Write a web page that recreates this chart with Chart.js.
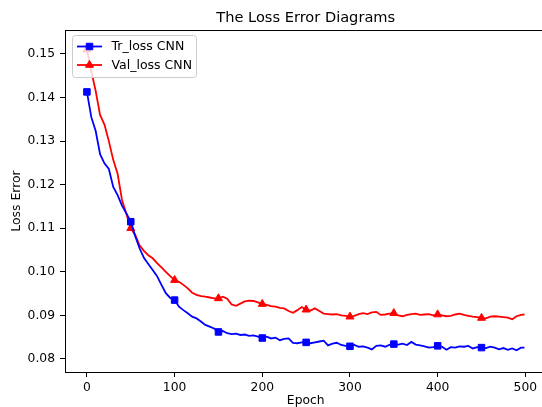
<!DOCTYPE html>
<html>
<head>
<meta charset="utf-8">
<script src="https://cdn.jsdelivr.net/npm/chart.js@4.4.0/dist/chart.umd.min.js"></script>
<style>
  html, body { margin: 0; padding: 0; background: #fff; overflow: hidden; }
  #lossChart { display: block; }
</style>
</head>
<body>
<canvas id="lossChart" width="552" height="415"></canvas>
<script>
// epochs sampled every 5 (plus the last one)
var epochs = [0, 5, 10, 15, 20, 25, 30, 35, 40, 45, 50, 55, 60, 65, 70, 75, 80, 85, 90, 95,
  100, 105, 110, 115, 120, 125, 130, 135, 140, 145, 150, 155, 160, 165, 170, 175, 180, 185, 190, 195,
  200, 205, 210, 215, 220, 225, 230, 235, 240, 245, 250, 255, 260, 265, 270, 275, 280, 285, 290, 295,
  300, 305, 310, 315, 320, 325, 330, 335, 340, 345, 350, 355, 360, 365, 370, 375, 380, 385, 390, 395,
  400, 405, 410, 415, 420, 425, 430, 435, 440, 445, 450, 455, 460, 465, 470, 475, 480, 485, 490, 495, 499];

var trLoss = [0.1413, 0.1355, 0.1323, 0.1270, 0.1249, 0.1236, 0.1195, 0.1176, 0.1152, 0.1134,
  0.1115, 0.1082, 0.1054, 0.1032, 0.1018, 0.1004, 0.0990, 0.0970, 0.0951, 0.0940,
  0.0935, 0.0920, 0.0912, 0.0905, 0.0897, 0.0893, 0.0886, 0.0878, 0.0874, 0.0870,
  0.0862, 0.0864, 0.0859, 0.0857, 0.0858, 0.0855, 0.0856, 0.0853, 0.0854, 0.0851,
  0.0848, 0.0851, 0.0847, 0.0849, 0.0843, 0.0846, 0.0847, 0.0837, 0.0836, 0.0838,
  0.0838, 0.0836, 0.0838, 0.0840, 0.0842, 0.0831, 0.0835, 0.0837, 0.0832, 0.0830,
  0.0829, 0.0832, 0.0828, 0.0829, 0.0826, 0.0822, 0.0830, 0.0831, 0.0828, 0.0832,
  0.0834, 0.0833, 0.0835, 0.0832, 0.0839, 0.0833, 0.0831, 0.0829, 0.0826, 0.0827,
  0.0830, 0.0828, 0.0821, 0.0827, 0.0826, 0.0829, 0.0828, 0.0830, 0.0824, 0.0827,
  0.0826, 0.0825, 0.0828, 0.0826, 0.0822, 0.0825, 0.0821, 0.0824, 0.0820, 0.0826, 0.0826];

var valLoss = [0.1510, 0.1460, 0.1415, 0.1360, 0.1338, 0.1300, 0.1257, 0.1225, 0.1165, 0.1133,
  0.1100, 0.1085, 0.1061, 0.1048, 0.1038, 0.1031, 0.1020, 0.1010, 0.1000, 0.0990,
  0.0981, 0.0977, 0.0970, 0.0962, 0.0952, 0.0947, 0.0944, 0.0943, 0.0941, 0.0939,
  0.0939, 0.0943, 0.0938, 0.0925, 0.0922, 0.0927, 0.0932, 0.0934, 0.0933, 0.0930,
  0.0926, 0.0924, 0.0921, 0.0920, 0.0917, 0.0916, 0.0910, 0.0906, 0.0912, 0.0919,
  0.0913, 0.0911, 0.0916, 0.0910, 0.0904, 0.0903, 0.0902, 0.0903, 0.0900, 0.0899,
  0.0897, 0.0899, 0.0903, 0.0905, 0.0903, 0.0907, 0.0908, 0.0901, 0.0902, 0.0904,
  0.0905, 0.0900, 0.0898, 0.0901, 0.0903, 0.0904, 0.0901, 0.0902, 0.0903, 0.0900,
  0.0902, 0.0900, 0.0898, 0.0899, 0.0902, 0.0904, 0.0901, 0.0899, 0.0897, 0.0896,
  0.0894, 0.0893, 0.0897, 0.0898, 0.0897, 0.0896, 0.0895, 0.0891, 0.0898, 0.0901, 0.0902];

var xTicks = [0, 100, 200, 300, 400, 500];
var yTicks = [0.08, 0.09, 0.10, 0.11, 0.12, 0.13, 0.14, 0.15];
var seriesNames = ["Tr_loss CNN", "Val_loss CNN"];
var markEvery = 50;

var FONT = "'DejaVu Sans', sans-serif";

function toPoints(values) {
  return epochs.map(function (e, i) { return { x: e, y: values[i] }; });
}
function markerRadius() {
  return epochs.map(function (e) { return e % markEvery === 0 ? 4.6 : 0; });
}

// top border of the axes box (right one is out of view)
var frameBox = {
  id: "frameBox",
  afterDraw: function (chart) {
    var a = chart.chartArea, ctx = chart.ctx;
    ctx.save();
    ctx.strokeStyle = "#000";
    ctx.lineWidth = 1;
    ctx.beginPath();
    ctx.moveTo(a.left, a.top + 0.5);
    ctx.lineTo(a.right, a.top + 0.5);
    ctx.lineTo(a.right, a.bottom);
    ctx.stroke();
    ctx.restore();
  }
};

// matplotlib-like legend in the upper left of the axes
var innerLegend = {
  id: "innerLegend",
  afterDatasetsDraw: function (chart) {
    var ctx = chart.ctx;
    var x0 = 72.5, y0 = 35.5, w = 124, h = 42, r = 3;
    ctx.save();
    ctx.beginPath();
    ctx.moveTo(x0 + r, y0);
    ctx.arcTo(x0 + w, y0, x0 + w, y0 + h, r);
    ctx.arcTo(x0 + w, y0 + h, x0, y0 + h, r);
    ctx.arcTo(x0, y0 + h, x0, y0, r);
    ctx.arcTo(x0, y0, x0 + w, y0, r);
    ctx.closePath();
    ctx.fillStyle = "rgba(255,255,255,0.8)";
    ctx.fill();
    ctx.strokeStyle = "#cccccc";
    ctx.lineWidth = 1;
    ctx.stroke();

    chart.data.datasets.forEach(function (ds, i) {
      var ly = 46.5 + i * 18.5;
      ctx.strokeStyle = ds.borderColor;
      ctx.lineWidth = ds.borderWidth;
      ctx.beginPath();
      ctx.moveTo(77, ly);
      ctx.lineTo(102, ly);
      ctx.stroke();
      ctx.fillStyle = ds.backgroundColor;
      ctx.strokeStyle = ds.borderColor;
      ctx.lineWidth = 1;
      Chart.helpers.drawPoint(ctx, { pointStyle: ds.pointStyle, radius: 4.6, rotation: 0, borderWidth: 1 }, 89.5, ly);
      ctx.fillStyle = "#000";
      ctx.font = "12.5px " + FONT;
      ctx.textBaseline = "middle";
      ctx.textAlign = "left";
      ctx.fillText(ds.label, 111.5, ly + 0.5);
    });
    ctx.restore();
  }
};

new Chart(document.getElementById("lossChart"), {
  type: "line",
  data: {
    datasets: [
      {
        label: seriesNames[0],
        data: toPoints(trLoss),
        borderColor: "#0000ff",
        backgroundColor: "#0000ff",
        borderWidth: 1.8,
        pointStyle: "rect",
        pointRadius: markerRadius(),
        pointBorderWidth: 1,
        tension: 0,
        fill: false
      },
      {
        label: seriesNames[1],
        data: toPoints(valLoss),
        borderColor: "#ff0000",
        backgroundColor: "#ff0000",
        borderWidth: 1.8,
        pointStyle: "triangle",
        pointRadius: markerRadius(),
        pointBorderWidth: 1,
        tension: 0,
        fill: false
      }
    ]
  },
  options: {
    responsive: false,
    animation: false,
    devicePixelRatio: 1,
    layout: { padding: { left: 0, right: 4, top: 0, bottom: 0 } },
    plugins: {
      legend: { display: false },
      tooltip: { enabled: false },
      title: {
        display: true,
        text: "The Loss Error Diagrams",
        fullSize: false,
        color: "#000",
        font: { family: FONT, size: 14.6, weight: "normal" },
        padding: { top: 9, bottom: 3.5 }
      }
    },
    scales: {
      x: {
        type: "linear",
        min: -25,
        max: 524,
        afterFit: function (s) { s.height = 43; },
        afterBuildTicks: function (s) { s.ticks = xTicks.map(function (v) { return { value: v }; }); },
        ticks: {
          color: "#000",
          font: { family: FONT, size: 12.3 },
          padding: 3,
          maxRotation: 0,
          callback: function (v) { return String(v); }
        },
        grid: { display: true, drawOnChartArea: false, drawTicks: true, tickLength: 5, color: "#000" },
        border: { display: true, color: "#000", width: 1 },
        title: {
          display: true,
          text: "Epoch",
          color: "#000",
          font: { family: FONT, size: 12.3 },
          padding: { top: 0, bottom: 6.5 }
        }
      },
      y: {
        type: "linear",
        min: 0.077,
        max: 0.1555,
        afterFit: function (s) { s.width = 65; },
        afterBuildTicks: function (s) { s.ticks = yTicks.map(function (v) { return { value: v }; }); },
        ticks: {
          color: "#000",
          font: { family: FONT, size: 12.3 },
          padding: 5,
          callback: function (v) { return v.toFixed(2); }
        },
        grid: { display: true, drawOnChartArea: false, drawTicks: true, tickLength: 5, color: "#000" },
        border: { display: true, color: "#000", width: 1 },
        title: {
          display: true,
          text: "Loss Error",
          color: "#000",
          font: { family: FONT, size: 12.4 },
          padding: { top: 9.5, bottom: 0 }
        }
      }
    }
  },
  plugins: [frameBox, innerLegend]
});
</script>
</body>
</html>
